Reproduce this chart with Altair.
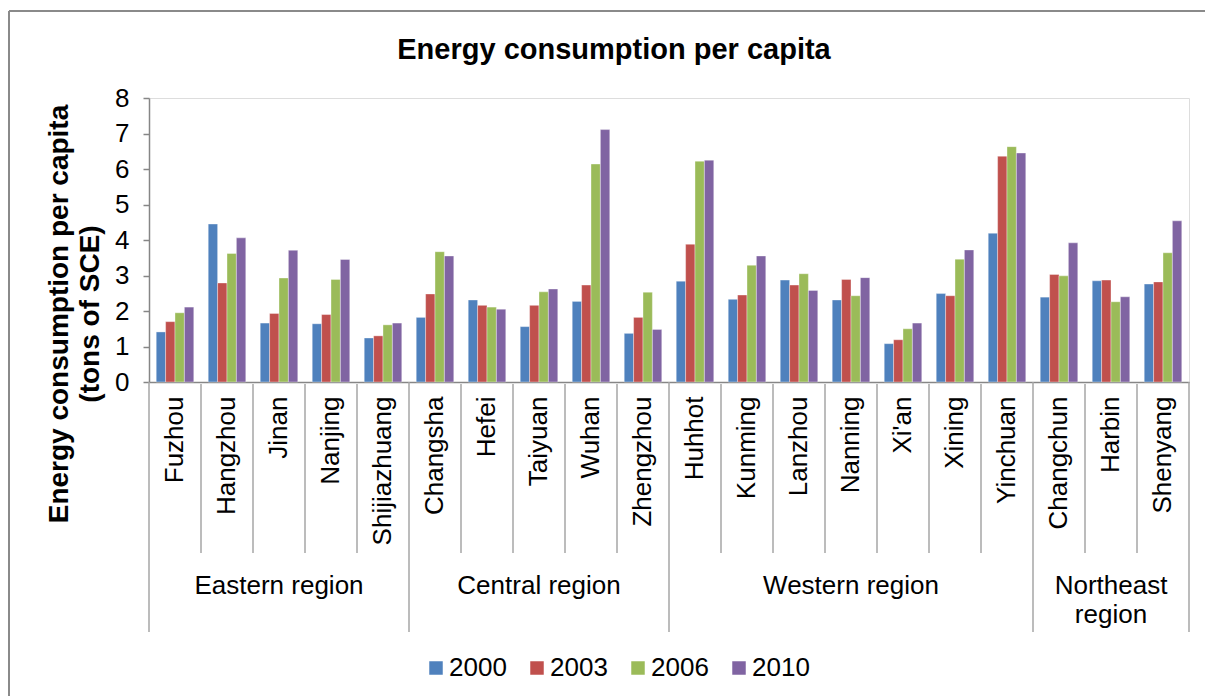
import altair as alt
import pandas as pd

# Cities grouped by region, in display order
cities = ["Fuzhou", "Hangzhou", "Jinan", "Nanjing", "Shijiazhuang",
          "Changsha", "Hefei", "Taiyuan", "Wuhan", "Zhengzhou",
          "Huhhot", "Kunming", "Lanzhou", "Nanning", "Xi'an", "Xining", "Yinchuan",
          "Changchun", "Harbin", "Shenyang"]
regions = (["Eastern region"] * 5 + ["Central region"] * 5 +
           ["Western region"] * 7 + ["Northeast region"] * 3)
region_labels = ["Eastern region", "Central region", "Western region", "Northeast\nregion"]
region_mid_city = ["Jinan", "Taiyuan", "Nanning", "Harbin"]

years = ["2000", "2003", "2006", "2010"]
# Energy consumption per capita (tons of SCE)
v2000 = [1.41, 4.45, 1.66, 1.64, 1.24, 1.82, 2.31, 1.56, 2.27, 1.37,
         2.84, 2.33, 2.87, 2.31, 1.08, 2.49, 4.19, 2.39, 2.85, 2.76]
v2003 = [1.70, 2.79, 1.93, 1.90, 1.30, 2.48, 2.16, 2.16, 2.73, 1.82,
         3.88, 2.45, 2.73, 2.89, 1.19, 2.43, 6.36, 3.03, 2.87, 2.82]
v2006 = [1.95, 3.62, 2.93, 2.89, 1.61, 3.67, 2.11, 2.54, 6.14, 2.53,
         6.22, 3.29, 3.05, 2.43, 1.50, 3.46, 6.63, 2.99, 2.26, 3.64]
v2010 = [2.11, 4.06, 3.71, 3.45, 1.66, 3.55, 2.05, 2.62, 7.11, 1.48,
         6.25, 3.55, 2.58, 2.94, 1.66, 3.72, 6.45, 3.92, 2.40, 4.54]
colors = ["#4F81BD", "#C0504D", "#9BBB59", "#8064A2"]

chart_title = "Energy consumption per capita"
y_title_lines = ["Energy consumption per capita", "(tons of SCE)"]

FONT = "Liberation Sans"
AXIS_GRAY = "#868686"
SEP_GRAY = "#a6a6a6"
FRAME_GRAY = "#8a8a8a"
W, H = 1040, 284

rows = []
for i, city in enumerate(cities):
    for yr, vals in zip(years, [v2000, v2003, v2006, v2010]):
        rows.append({"city": city, "region": regions[i], "year": yr, "value": vals[i]})
bars_df = pd.DataFrame(rows)

# Boundaries between cities inside a region, and between regions
first_in_region = [c for i, c in enumerate(cities) if i == 0 or regions[i] != regions[i - 1]]
inner_df = pd.DataFrame({"city": [c for c in cities if c not in first_in_region]})
outer_df = pd.DataFrame({"city": first_in_region})
region_df = pd.DataFrame({"city": region_mid_city, "label": region_labels})
ytitle_df = pd.DataFrame({"line": y_title_lines, "xpos": [-89, -58]})
single_df = pd.DataFrame({"k": [0]})

x_scale = alt.Scale(domain=cities, paddingInner=0, paddingOuter=0)
x_axis = alt.Axis(title=None, ticks=False, domain=True, domainColor=AXIS_GRAY,
                  domainWidth=1.5, labelAngle=270, labelAlign="right",
                  labelBaseline="middle", labelPadding=14, labelFontSize=26,
                  labelFont=FONT, labelColor="black", labelOverlap=False,
                  labelLimit=400)


def city_x(**kw):
    return alt.X("city:N", scale=x_scale, sort=cities, axis=x_axis, **kw)


bars = alt.Chart(bars_df).mark_bar(stroke="white", strokeWidth=0.6, strokeOpacity=0.6).encode(
    x=city_x(),
    xOffset=alt.XOffset("year:N", scale=alt.Scale(domain=years, paddingInner=0, paddingOuter=0.77)),
    y=alt.Y("value:Q", scale=alt.Scale(domain=[0, 8], nice=False),
            axis=alt.Axis(values=list(range(9)), grid=False, tickSize=6, tickColor=AXIS_GRAY,
                          tickWidth=1.5, domainColor=AXIS_GRAY, domainWidth=1.5,
                          labelFontSize=26, labelFont=FONT, labelColor="black",
                          labelPadding=14, title=None)),
    color=alt.Color("year:N", scale=alt.Scale(domain=years, range=colors),
                    legend=alt.Legend(title=None, orient="none", legendX=274, legendY=557,
                                      direction="horizontal", columns=4,
                                      symbolType="square", symbolSize=182,
                                      symbolStrokeWidth=0, labelFontSize=26,
                                      labelFont=FONT, labelColor="black",
                                      labelOffset=0, columnPadding=17, padding=0)),
)

inner_rules = alt.Chart(inner_df).mark_rule(color=SEP_GRAY, strokeWidth=1.5).encode(
    x=city_x(bandPosition=0),
    y=alt.value(H + 2), y2=alt.value(455),
)

outer_rules = alt.Chart(outer_df).mark_rule(color=SEP_GRAY, strokeWidth=1.5).encode(
    x=city_x(bandPosition=0),
    y=alt.value(H), y2=alt.value(534),
)

right_rule = alt.Chart(single_df).mark_rule(color=SEP_GRAY, strokeWidth=1.5).encode(
    x=alt.value(W), y=alt.value(H), y2=alt.value(534),
)

region_text = alt.Chart(region_df).mark_text(
    font=FONT, fontSize=26, color="black", baseline="alphabetic", align="center",
    lineBreak="\n", lineHeight=29,
).encode(
    x=city_x(),
    y=alt.value(496),
    text="label:N",
)

y_title = alt.Chart(ytitle_df).mark_text(
    font=FONT, fontSize=28, fontWeight="bold", color="black", angle=270,
    baseline="middle", align="center",
).encode(
    x=alt.X("xpos:Q", scale=None), y=alt.value(216), text="line:N",
)

title_text = alt.Chart(single_df).mark_text(
    font=FONT, fontSize=29, fontWeight="bold", color="black", baseline="middle", align="center",
).encode(
    x=alt.value(465), y=alt.value(-48), text=alt.value(chart_title),
)

# Outer chart frame: top and left edges
frame_top = alt.Chart(single_df).mark_rule(color=FRAME_GRAY, strokeWidth=2).encode(
    x=alt.value(-140), x2=alt.value(W + 16), y=alt.value(-87),
)
frame_left = alt.Chart(single_df).mark_rule(color=FRAME_GRAY, strokeWidth=2).encode(
    x=alt.value(-140), y=alt.value(-87), y2=alt.value(H + 314),
)

chart = alt.layer(
    frame_top, frame_left, bars, inner_rules, outer_rules, right_rule,
    region_text, y_title, title_text
).properties(
    width=W, height=H,
    autosize=alt.AutoSizeParams(type="none"),
    padding={"left": 149, "top": 98, "right": 16, "bottom": 314},
).configure_view(stroke=None).configure(font=FONT)

chart.save("out.html", embed_options={"renderer": "svg", "actions": False})
